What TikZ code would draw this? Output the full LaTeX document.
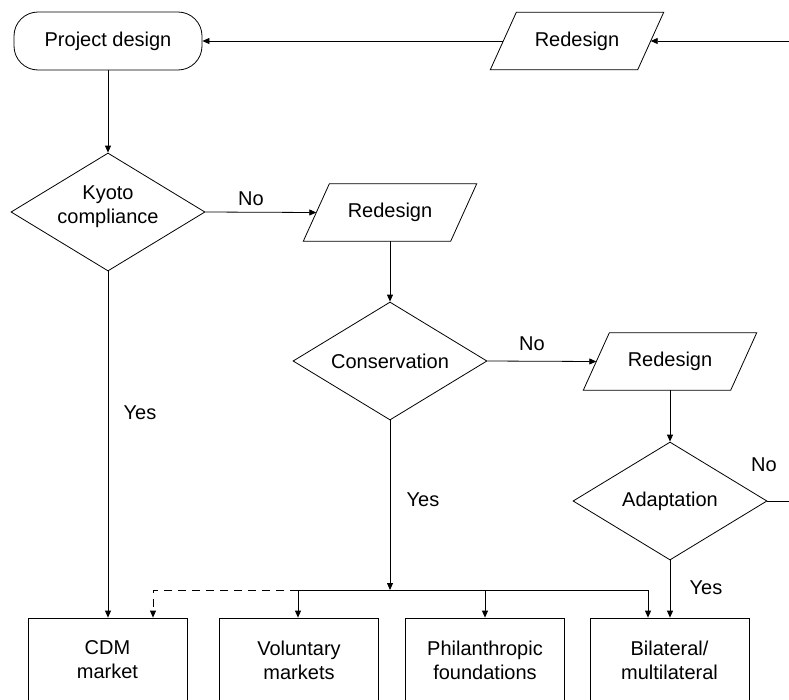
\documentclass[tikz,border=0pt]{standalone}
\usepackage{fontspec}
\setmainfont{Liberation Sans}
\usetikzlibrary{arrows.meta,shapes.geometric}
\begin{document}
\begin{tikzpicture}[x=1pt,y=-1pt,
  every node/.style={font=\fontsize{20}{24}\selectfont, inner sep=0pt},
  ln/.style={line width=0.8pt, draw=black},
  arr/.style={ln, -{Triangle[length=7pt,width=6pt]}},
  term/.style={ln, draw, rounded corners=24pt, minimum width=188pt, minimum height=58pt},
  para/.style={rectangle, minimum width=173pt, minimum height=57pt},
  dia/.style={ln, draw, diamond, minimum width=194pt, minimum height=118pt},
  dtext/.style={align=center},
  box/.style={ln, draw, rectangle, minimum width=159pt, minimum height=84pt, align=center},
  lbl/.style={}
]
\path[use as bounding box, clip] (0,0) rectangle (789,699);
\fill[white] (0,0) rectangle (789,699);

% nodes
\node[term] (pd) at (108,41) {Project design};
\node[para] (r1) at (577,41) {Redesign};
\node[dia] (ky) at (108,212) {};
\node[dtext] (kyt) at (108,207) {Kyoto\\compliance};
\node[para] (r2) at (390,212.5) {Redesign};
\node[dia] (cons) at (390,361) {};
\node[dtext] (const) at (390,361) {Conservation};
\node[para] (r3) at (670,361.5) {Redesign};
\node[dia] (ad) at (670,501) {};
\node[dtext] (adt) at (670,501) {Adaptation};
\node[box] (cdm) at (107.5,660) {CDM\\market};
\node[box] (vol) at (299,660) {Voluntary\\markets};
\node[box] (phil) at (485,660) {Philanthropic\\foundations};
\node[box] (bil) at (669.5,660) {Bilateral/\\multilateral};

% parallelogram outlines
\foreach \n in {r1,r2,r3}
  \draw[ln] ([xshift=26pt]\n.north west) -- (\n.north east)
    -- ([xshift=-26pt]\n.south east) -- (\n.south west) -- cycle;

% coordinates
\coordinate (eR1) at (789,41);
\coordinate (eR2) at (789,501);
\coordinate (bus) at (390,590);
\coordinate (bL) at (298,590);
\coordinate (bR) at (648,590);
\coordinate (dc) at (153,590);

% connectors
\draw[arr] (eR1) -- ([xshift=-13pt]r1.east);
\draw[arr] ([xshift=13pt]r1.west) -- (pd.east);
\draw[arr] (pd.south) -- (ky.north);
\draw[arr] (ky.south) -- (ky.south |- cdm.north);
\draw[arr] (ky.east) -- ([xshift=13pt]r2.west);
\draw[arr] (r2.south) -- (cons.north);
\draw[arr] (cons.east) -- ([xshift=13pt]r3.west);
\draw[arr] (r3.south) -- (ad.north);
\draw[ln] (ad.east) -- (eR2);
\draw[arr] (ad.south) -- (ad.south |- bil.north);
\draw[arr] (cons.south) -- (bus);
\draw[ln] (bL) -- (bR);
\draw[arr] (bL) -- (bL |- vol.north);
\draw[arr] (phil.north |- bus) -- (phil.north);
\draw[arr] (bR) -- (bR |- bil.north);
\draw[arr, dash pattern=on 8pt off 6pt] (bL) -- (dc) -- (dc |- cdm.north);

% labels
\node[lbl] (yes1) at (140,413) {Yes};
\node[lbl] (no1) at (251,199) {No};
\node[lbl] (no2) at (532,344) {No};
\node[lbl] (yes2) at (423,500) {Yes};
\node[lbl] (no3) at (764,465) {No};
\node[lbl] (yes3) at (706,588) {Yes};
\end{tikzpicture}
\end{document}
